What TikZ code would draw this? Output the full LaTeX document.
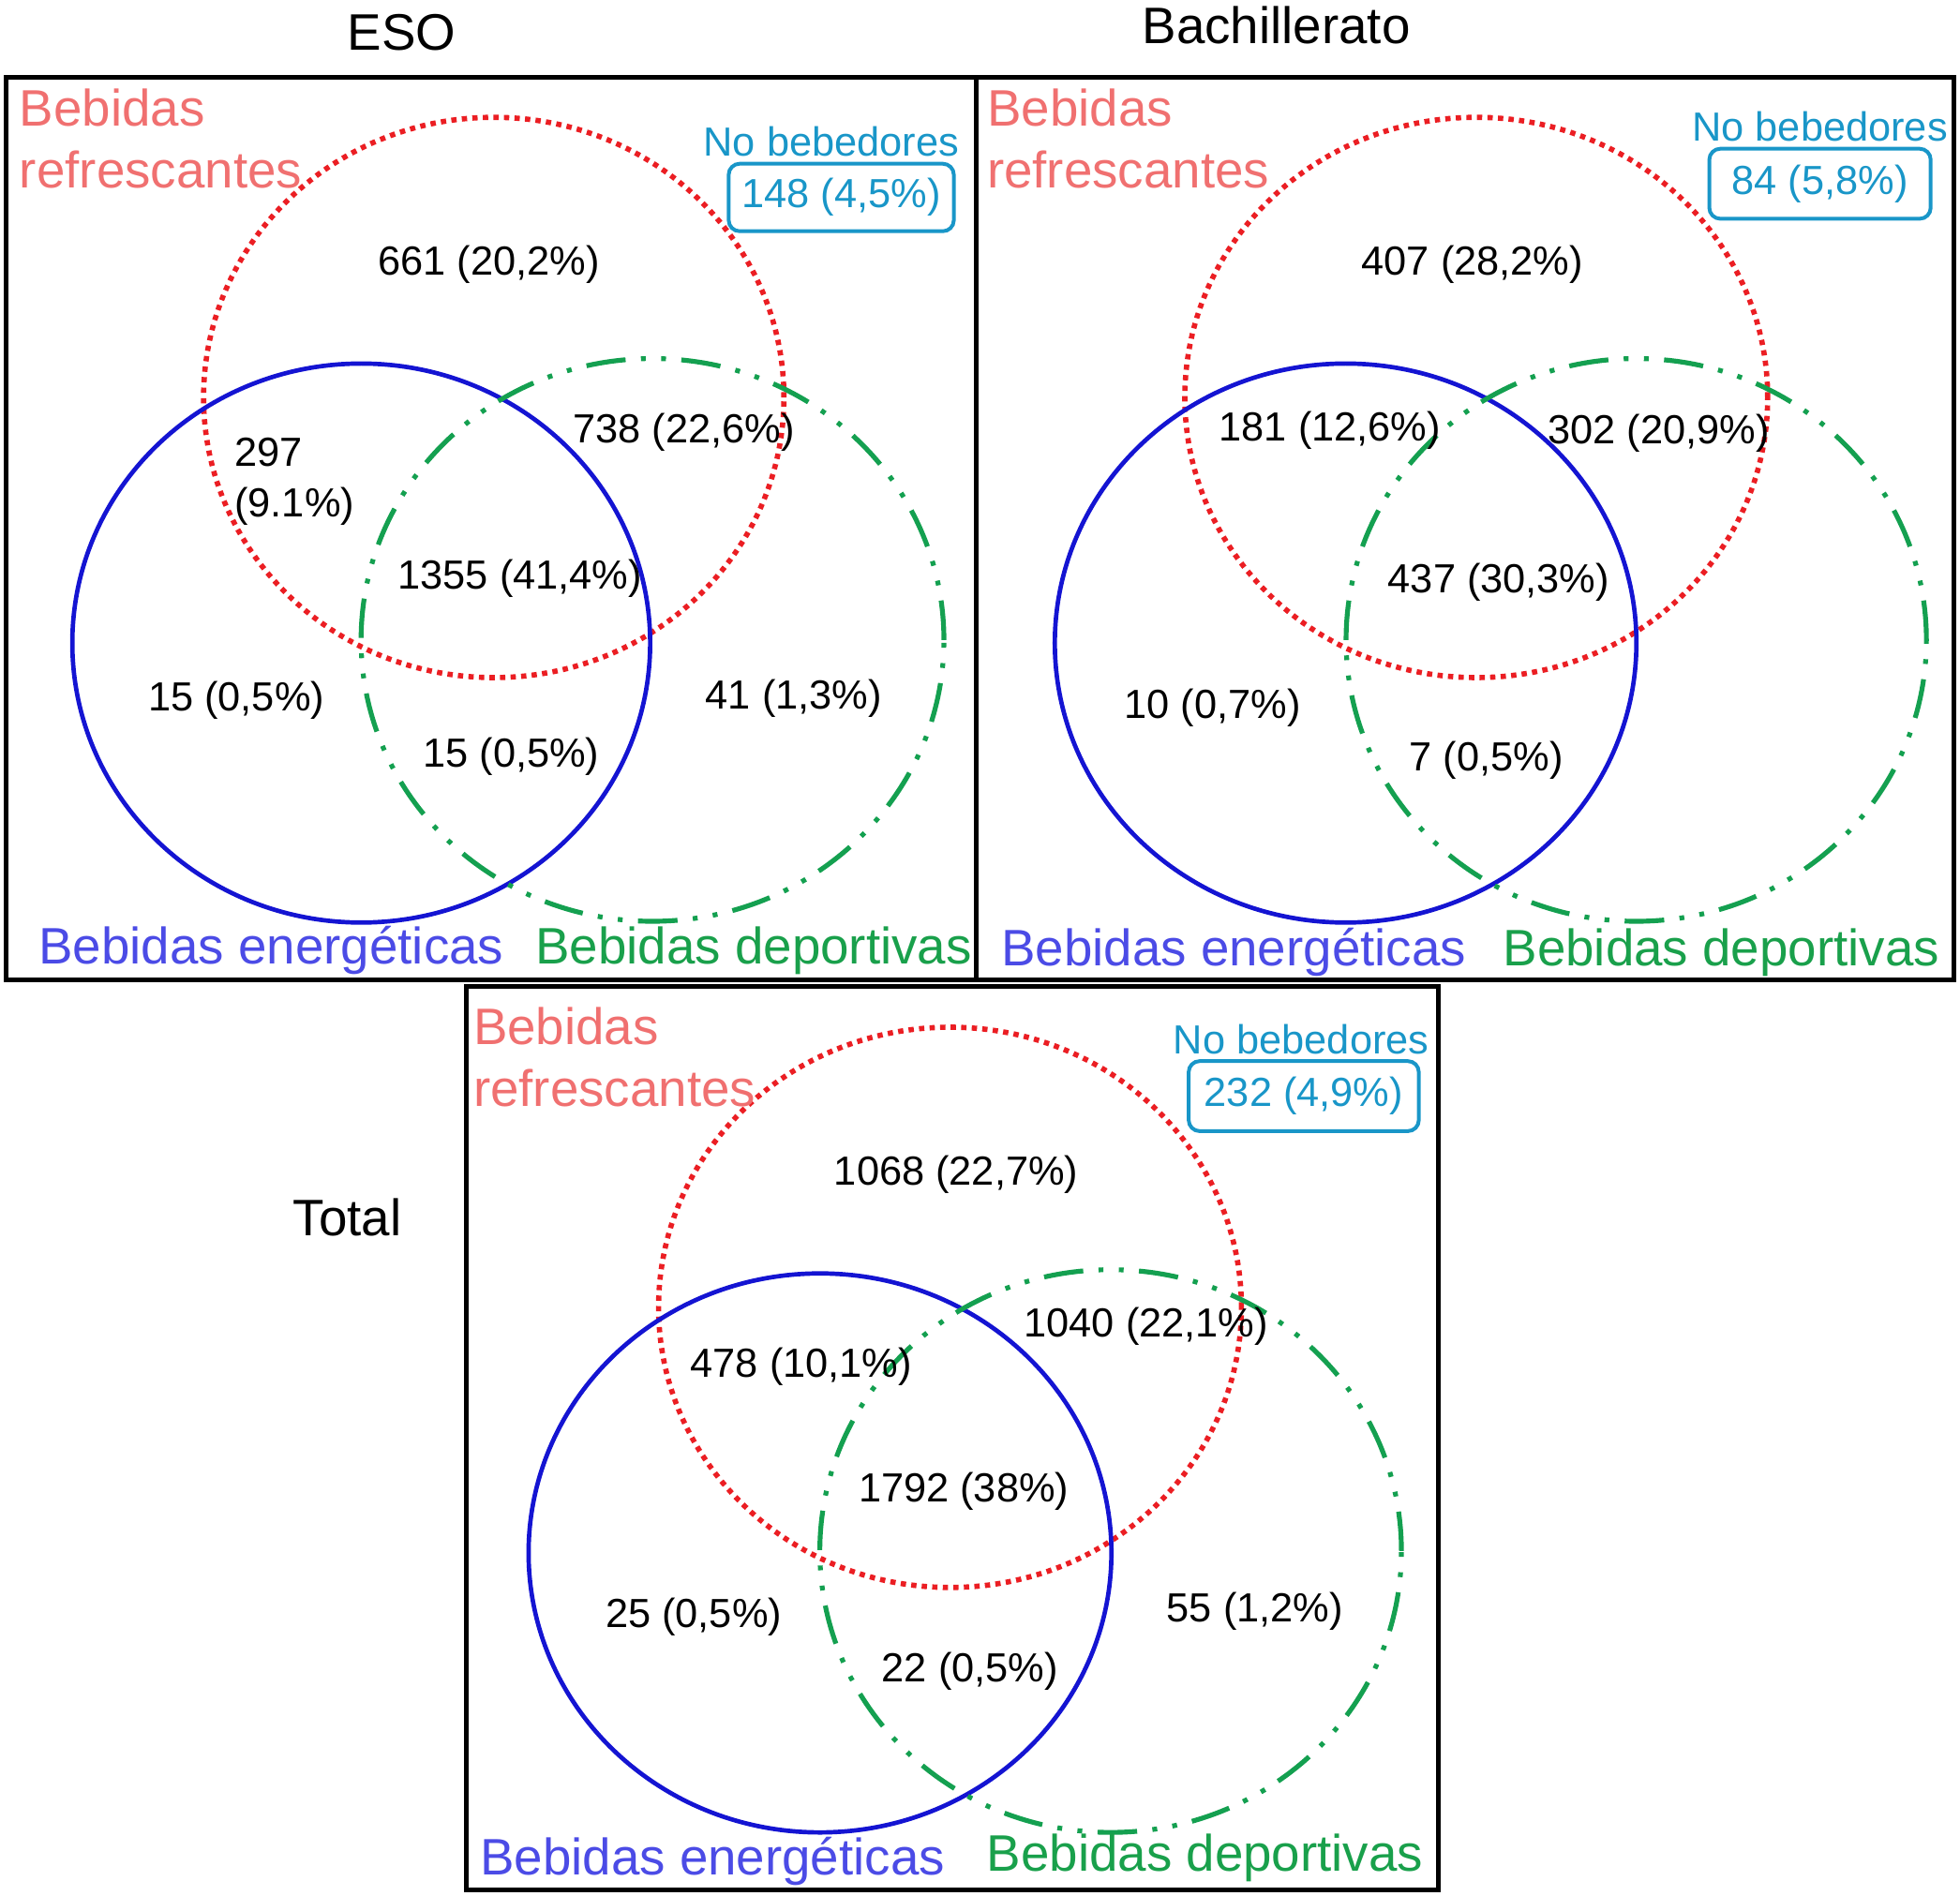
\documentclass[tikz,border=0pt]{standalone}
\usepackage{fontspec}
\setmainfont{Liberation Sans}
\definecolor{labred}{RGB}{240,112,112}
\definecolor{dotred}{RGB}{235,30,35}
\definecolor{lineblue}{RGB}{20,20,210}
\definecolor{labblue}{RGB}{75,75,230}
\definecolor{linegreen}{RGB}{20,160,80}
\definecolor{labgreen}{RGB}{25,160,75}
\definecolor{cyanc}{RGB}{25,150,200}
\begin{document}
\begin{tikzpicture}[x=0.01cm,y=-0.01cm,
  panel/.style={draw=black,line width=1.1pt},
  refc/.style={draw=dotred,line width=1.2pt,dash pattern=on 1.2pt off 1.2pt},
  enec/.style={draw=lineblue,line width=1pt},
  depc/.style={draw=linegreen,line width=1.1pt,dash pattern=on 9pt off 3.5pt on 1.1pt off 3.5pt on 1.1pt off 3.5pt},
  bigfont/.style={font=\fontsize{11.67}{14}\selectfont},
  numfont/.style={font=\fontsize{9.25}{11.4}\selectfont},
  titlelab/.style={bigfont,anchor=base,inner sep=0},
  catlab/.style={bigfont,anchor=base west,inner sep=0,text=labred},
  enelab/.style={bigfont,anchor=base,inner sep=0,text=labblue},
  deplab/.style={bigfont,anchor=base,inner sep=0,text=labgreen},
  numlab/.style={numfont,anchor=base,inner sep=0},
  nblab/.style={numfont,anchor=base,inner sep=0,text=cyanc},
  nbbox/.style={numfont,draw=cyanc,text=cyanc,line width=0.85pt,rounded corners=2.5pt,inner sep=0,minimum width=#1},
  nbbox/.default=1.8cm
]
\useasboundingbox (0,0) rectangle (1568,1517);

% ---------------- ESO ----------------
\draw[panel] (5,62) rectangle (781,784);
\node[titlelab] (t1) at (321.5,40) {ESO};
\draw[refc] (395,318) ellipse [x radius=2.32cm, y radius=2.24cm];
\draw[enec] (289,514.5) ellipse [x radius=2.31cm, y radius=2.235cm];
\draw[depc] (522,512) ellipse [x radius=2.33cm, y radius=2.25cm];
\node[catlab] (r1a) at (15,101) {Bebidas};
\node[catlab] (r1b) at (15,150) {refrescantes};
\node[nblab] (n1) at (665,125) {No bebedores};
\node[nbbox=1.8cm,minimum height=0.54cm] (b1) at (673,158) {148 (4,5\%)};
\node[numlab] (a1) at (391,220) {661 (20,2\%)};
\node[numfont,anchor=north west,inner sep=0,align=left] (c1) at (187,350) {297\\(9.1\%)};
\node[numlab] (f1) at (547,354) {738 (22,6\%)};
\node[numlab] (g1) at (416,471) {1355 (41,4\%)};
\node[numlab] (h1) at (189,569) {15 (0,5\%)};
\node[numlab] (i1) at (635,567) {41 (1,3\%)};
\node[numlab] (j1) at (409,614) {15 (0,5\%)};
\node[enelab] (e1) at (217,771) {Bebidas energéticas};
\node[deplab] (d1) at (603,771) {Bebidas deportivas};

% ---------------- Bachillerato ----------------
\draw[panel] (781,62) rectangle (1563,784);
\node[titlelab] (t2) at (1021,35) {Bachillerato};
\draw[refc] (1181,318) ellipse [x radius=2.33cm, y radius=2.24cm];
\draw[enec] (1076.5,514.5) ellipse [x radius=2.325cm, y radius=2.235cm];
\draw[depc] (1309,512) ellipse [x radius=2.32cm, y radius=2.25cm];
\node[catlab] (r2a) at (789,101) {Bebidas};
\node[catlab] (r2b) at (789,150) {refrescantes};
\node[nblab] (n2) at (1456,112.5) {No bebedores};
\node[nbbox=1.77cm,minimum height=0.56cm] (b2) at (1456,147) {84 (5,8\%)};
\node[numlab] (a2) at (1178,220) {407 (28,2\%)};
\node[numlab] (c2) at (1064,353) {181 (12,6\%)};
\node[numlab] (f2) at (1327,355) {302 (20,9\%)};
\node[numlab] (g2) at (1199,474) {437 (30,3\%)};
\node[numlab] (h2) at (970,575) {10 (0,7\%)};
\node[numlab] (j2) at (1189,617) {7 (0,5\%)};
\node[enelab] (e2) at (987,773) {Bebidas energéticas};
\node[deplab] (d2) at (1377,773) {Bebidas deportivas};

% ---------------- Total ----------------
\draw[panel] (373,789) rectangle (1151,1512);
\node[titlelab] (t3) at (278,989) {Total};
\draw[refc] (760,1046) ellipse [x radius=2.33cm, y radius=2.24cm];
\draw[enec] (656,1242.5) ellipse [x radius=2.33cm, y radius=2.235cm];
\draw[depc] (888.5,1241) ellipse [x radius=2.325cm, y radius=2.25cm];
\node[catlab] (r3a) at (378,836) {Bebidas};
\node[catlab] (r3b) at (378,885) {refrescantes};
\node[nblab] (n3) at (1041,843) {No bebedores};
\node[nbbox=1.84cm,minimum height=0.56cm] (b3) at (1043,877) {232 (4,9\%)};
\node[numlab] (a3) at (765,948) {1068 (22,7\%)};
\node[numlab] (f3) at (917,1070) {1040 (22,1\%)};
\node[numlab] (c3) at (641,1102) {478 (10,1\%)};
\node[numlab] (g3) at (771,1202) {1792 (38\%)};
\node[numlab] (h3) at (555,1302) {25 (0,5\%)};
\node[numlab] (i3) at (1004,1298) {55 (1,2\%)};
\node[numlab] (j3) at (776,1346) {22 (0,5\%)};
\node[enelab] (e3) at (570,1500) {Bebidas energéticas};
\node[deplab] (d3) at (964,1497) {Bebidas deportivas};
\end{tikzpicture}
\end{document}
